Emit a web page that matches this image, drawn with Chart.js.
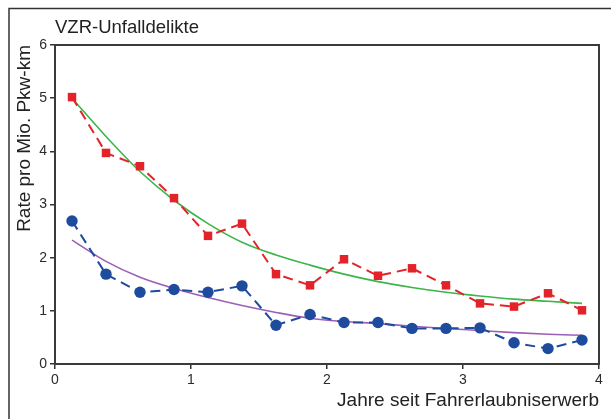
<!DOCTYPE html>
<html>
<head>
<meta charset="utf-8">
<script src="https://cdn.jsdelivr.net/npm/chart.js@4"></script>
<style>
  body { margin: 0; background: #fff; }
  canvas { display: block; }
</style>
</head>
<body>
<canvas id="chart" width="611" height="419"></canvas>
<script>
// years since licence (quarter midpoints)
const years = [0.125, 0.375, 0.625, 0.875, 1.125, 1.375, 1.625, 1.875,
               2.125, 2.375, 2.625, 2.875, 3.125, 3.375, 3.625, 3.875];

// observed rates (per million car-km)
const redRates  = [5.02, 3.97, 3.72, 3.12, 2.41, 2.64, 1.69, 1.48,
                   1.97, 1.66, 1.80, 1.48, 1.14, 1.08, 1.33, 1.01];
const blueRates = [2.69, 1.69, 1.35, 1.40, 1.35, 1.47, 0.73, 0.93,
                   0.78, 0.78, 0.67, 0.67, 0.68, 0.40, 0.29, 0.45];

// fitted curves
const greenFit  = [5.00, 4.28, 3.62, 3.08, 2.64, 2.29, 2.05, 1.86,
                   1.69, 1.55, 1.44, 1.35, 1.28, 1.22, 1.18, 1.14];
const purpleFit = [2.33, 1.93, 1.63, 1.42, 1.25, 1.10, 0.97, 0.86,
                   0.80, 0.76, 0.71, 0.67, 0.63, 0.59, 0.56, 0.54];

const yTicks = [0, 1, 2, 3, 4, 5, 6];
const xTicks = [0, 1, 2, 3, 4];

const toPoints = (vals) => vals.map((v, i) => ({ x: years[i], y: v }));

Chart.defaults.font.family = '"Liberation Sans", Arial, Helvetica, sans-serif';
Chart.defaults.color = '#2b2b2b';

// outer panel lines + box around plot area
const framePlugin = {
  id: 'frame',
  beforeDraw(chart) {
    const ctx = chart.ctx;
    ctx.save();
    ctx.strokeStyle = '#333';
    ctx.lineWidth = 1.5;
    ctx.beginPath();
    ctx.moveTo(611, 8.5);
    ctx.lineTo(9, 8.5);
    ctx.lineTo(9, 419);
    ctx.stroke();
    ctx.restore();
  },
  afterDraw(chart) {
    const { left, top, right, bottom } = chart.chartArea;
    const ctx = chart.ctx;
    ctx.save();
    ctx.strokeStyle = '#3a3a3a';
    ctx.lineWidth = 2;
    ctx.strokeRect(left, top, right - left, bottom - top);
    ctx.restore();
  }
};

new Chart(document.getElementById('chart'), {
  type: 'line',
  data: {
    datasets: [
      {
        data: toPoints(redRates),
        borderColor: '#e42229',
        backgroundColor: '#e42229',
        borderWidth: 2,
        borderDash: [10, 6],
        pointStyle: 'rect',
        pointRadius: 6,
        pointBorderWidth: 0
      },
      {
        data: toPoints(blueRates),
        borderColor: '#1e4b9e',
        backgroundColor: '#1e4b9e',
        borderWidth: 2,
        borderDash: [10, 6],
        pointStyle: 'circle',
        pointRadius: 5.7,
        pointBorderWidth: 0
      },
      {
        data: toPoints(greenFit),
        borderColor: '#3cb54a',
        borderWidth: 1.6,
        pointRadius: 0,
        cubicInterpolationMode: 'monotone'
      },
      {
        data: toPoints(purpleFit),
        borderColor: '#9c5fb5',
        borderWidth: 1.6,
        pointRadius: 0,
        cubicInterpolationMode: 'monotone'
      }
    ]
  },
  options: {
    responsive: false,
    animation: false,
    layout: { padding: { top: 0, left: 0, right: 12, bottom: 0 } },
    plugins: {
      legend: { display: false },
      tooltip: { enabled: false },
      title: {
        display: true,
        text: 'VZR-Unfalldelikte',
        align: 'start',
        fullSize: false,
        color: '#222',
        font: { size: 18.5, weight: 'normal' },
        padding: { top: 16.4, bottom: 6.4 }
      }
    },
    scales: {
      x: {
        type: 'linear',
        min: 0,
        max: 4,
        afterBuildTicks: (axis) => { axis.ticks = xTicks.map(v => ({ value: v })); },
        afterFit: (axis) => { axis.height = 55; },
        ticks: { font: { size: 14 }, padding: 3, maxRotation: 0 },
        grid: { drawOnChartArea: false, tickLength: 5, color: '#333', lineWidth: 1.5 },
        border: { display: false },
        title: {
          display: true,
          text: 'Jahre seit Fahrerlaubniserwerb',
          align: 'end',
          color: '#222',
          font: { size: 19 },
          padding: { top: 0, bottom: 7 }
        }
      },
      y: {
        type: 'linear',
        min: 0,
        max: 6,
        afterBuildTicks: (axis) => { axis.ticks = yTicks.map(v => ({ value: v })); },
        afterFit: (axis) => { axis.width = 55; },
        ticks: { font: { size: 14 }, padding: 3 },
        grid: { drawOnChartArea: false, tickLength: 5, color: '#333', lineWidth: 1.5 },
        border: { display: false },
        title: {
          display: true,
          text: 'Rate pro Mio. Pkw-km',
          align: 'end',
          color: '#222',
          font: { size: 19 },
          padding: { top: 13.5, bottom: 0 }
        }
      }
    }
  },
  plugins: [framePlugin]
});
</script>
</body>
</html>
